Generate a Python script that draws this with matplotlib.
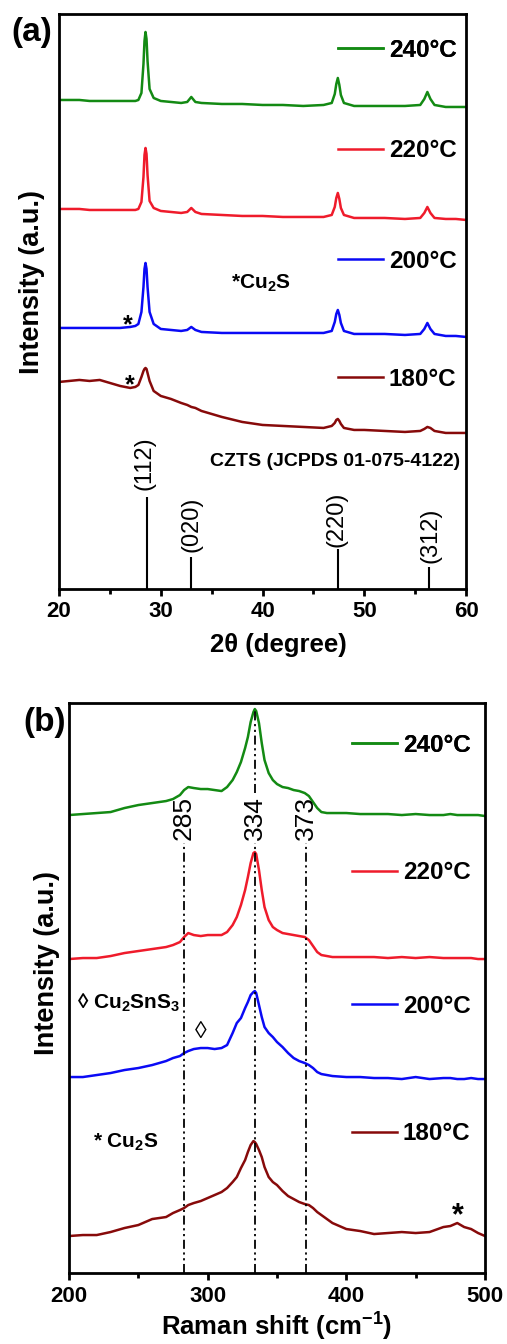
import matplotlib
matplotlib.use('Agg')
from matplotlib import pyplot as plt
from matplotlib.ticker import MultipleLocator

plt.rcParams['font.family'] = ['Liberation Sans', 'DejaVu Sans']
plt.rcParams['font.weight'] = 'bold'
plt.rcParams['axes.labelweight'] = 'bold'
plt.rcParams['mathtext.fontset'] = 'custom'
plt.rcParams['mathtext.rm'] = 'Liberation Sans:bold'
plt.rcParams['mathtext.bf'] = 'Liberation Sans:bold'
plt.rcParams['mathtext.default'] = 'rm'

temps = ['180°C', '200°C', '220°C', '240°C']
colors = ['#870a0a', '#0a0af5', '#ef1b2b', '#138a13']

# (a) XRD, offset intensities (a.u.)
two_theta = [20, 21, 22, 23, 24, 25, 26, 27, 27.5, 27.8,
             28.1, 28.3, 28.4, 28.5, 28.6, 28.7, 28.9, 29.3, 30, 31,
             32, 32.6, 33.0, 33.4, 34, 36, 38, 40, 42, 44,
             46, 46.8, 47.1, 47.25, 47.4, 47.55, 47.7, 48.0, 49, 50,
             52, 54, 55.5, 55.9, 56.2, 56.5, 56.9, 58, 59, 60]
xrd_180 = [207, 208, 209, 208, 209, 206, 203, 201, 202, 204,
           212, 218, 220, 221, 220, 216, 208, 198, 193, 190,
           186, 184, 182, 181, 178, 172, 167, 164, 163, 162,
           161, 163, 166, 169, 170, 168, 165, 161, 159, 159,
           158, 157, 158, 160, 162, 161, 158, 156, 156, 156]
xrd_200 = [261, 261, 261, 261, 261, 261, 261, 262, 263, 265,
           277, 302, 320, 326, 320, 302, 277, 265, 260, 259,
           258, 259, 262, 259, 257, 256, 256, 256, 256, 256,
           256, 258, 267, 275, 279, 274, 266, 258, 255, 255,
           255, 254, 255, 260, 266, 260, 255, 253, 253, 252]
xrd_220 = [380, 380, 380, 379, 379, 379, 379, 379, 379, 380,
           387, 412, 434, 441, 435, 414, 388, 381, 378, 377,
           376, 377, 381, 377, 375, 374, 373, 373, 372, 372,
           372, 374, 382, 391, 396, 390, 381, 374, 371, 371,
           371, 370, 371, 376, 382, 376, 371, 370, 370, 369]
xrd_240 = [489, 489, 489, 488, 488, 488, 488, 488, 488, 489,
           496, 525, 548, 557, 550, 528, 500, 491, 488, 487,
           486, 487, 492, 487, 486, 485, 485, 484, 484, 483,
           484, 486, 495, 505, 511, 504, 494, 486, 483, 483,
           483, 483, 484, 490, 497, 490, 484, 482, 482, 482]
xrd = [xrd_180, xrd_200, xrd_220, xrd_240]

# CZTS reference (JCPDS 01-075-4122)
ref_pos = [28.6, 33.0, 47.4, 56.4]
ref_int = [92, 32, 40, 22]
ref_hkl = ['(112)', '(020)', '(220)', '(312)']

# (b) Raman
raman_x = [200, 210, 220, 230, 240, 250, 260, 270, 275, 280,
           283, 286, 290, 295, 300, 305, 310, 314, 318, 321,
           324, 327, 329, 331, 333, 334, 335, 337, 339, 341,
           344, 347, 350, 354, 358, 362, 366, 370, 373, 376,
           379, 382, 386, 390, 400, 410, 420, 430, 440, 450,
           460, 470, 475, 480, 485, 490, 495, 500]
raman_180 = [37, 38, 38, 41, 45, 48, 54, 56, 60, 63,
             65, 68, 70, 72, 75, 78, 81, 85, 91, 96,
             105, 113, 121, 128, 132, 131, 129, 123, 116, 106,
             96, 91, 88, 82, 77, 74, 71, 69, 68, 65,
             61, 58, 54, 50, 44, 42, 39, 40, 41, 40,
             41, 46, 47, 50, 46, 44, 40, 37]
raman_200 = [196, 196, 198, 200, 203, 205, 208, 212, 215, 217,
             220, 222, 224, 225, 225, 224, 225, 228, 240, 250,
             255, 265, 271, 278, 281, 282, 280, 268, 256, 246,
             240, 236, 231, 226, 220, 215, 212, 210, 208, 205,
             201, 199, 198, 197, 196, 196, 195, 195, 194, 196,
             194, 195, 195, 194, 194, 195, 194, 194]
raman_220 = [314, 315, 315, 317, 320, 322, 324, 326, 328, 331,
             336, 340, 338, 337, 338, 338, 338, 341, 348, 356,
             368, 383, 396, 410, 420, 421, 419, 403, 383, 366,
             353, 346, 343, 340, 339, 338, 337, 336, 333, 327,
             321, 318, 317, 316, 316, 316, 316, 315, 316, 315,
             316, 315, 315, 315, 315, 315, 314, 314]
raman_240 = [458, 459, 460, 461, 465, 468, 470, 472, 474, 478,
             483, 486, 485, 484, 484, 483, 482, 486, 493, 501,
             511, 525, 536, 551, 561, 564, 562, 550, 530, 513,
             500, 493, 489, 486, 485, 483, 482, 480, 477, 471,
             465, 461, 460, 460, 460, 459, 459, 459, 458, 459,
             458, 458, 459, 458, 458, 458, 458, 457]
raman = [raman_180, raman_200, raman_220, raman_240]

raman_modes = [283, 334, 371]
raman_mode_labels = ['285', '334', '373']

fig = plt.figure(figsize=(5.07, 13.44), dpi=100)
ax1 = fig.add_axes([0.1164, 0.5618, 0.8028, 0.4278])
ax2 = fig.add_axes([0.1361, 0.0528, 0.8205, 0.4241])

def style(ax):
    for s in ax.spines.values():
        s.set_linewidth(2)
    ax.set_yticks([])
    ax.tick_params(axis='x', which='major', direction='out', length=5, width=2,
                   labelsize=16, pad=4)
    ax.tick_params(axis='x', which='minor', direction='out', length=3.5, width=2)

def add_legends(ax, lines, ys, x0):
    for ln, lab, y in zip(lines, temps, ys):
        lg = ax.legend([ln], [lab], loc='center left', bbox_to_anchor=(x0, y),
                       frameon=False, borderpad=0, borderaxespad=0,
                       handlelength=1.85, handletextpad=0.25,
                       prop={'size': 17.5, 'weight': 'bold'})
        ax.add_artist(lg)

# ---- panel (a) ----
lines = []
for y, c in zip(xrd, colors):
    ln, = ax1.plot(two_theta, y, color=c, lw=1.8)
    lines.append(ln)
ax1.vlines(ref_pos, 0, ref_int, color='k', lw=1.5)
for p, h, lab in zip([28.45, 33.0, 47.3, 56.5], [99, 37, 42, 26], ref_hkl):
    ax1.text(p, h, lab, rotation=90, ha='center', va='bottom', fontsize=17,
             fontweight='normal')
ax1.text(59.4, 127, 'CZTS (JCPDS 01-075-4122)', ha='right', va='center', fontsize=14)
ax1.text(36.9, 306, '*Cu$_2$S', ha='left', va='center', fontsize=15)
ax1.text(26.8, 264, '*', ha='center', va='center', fontsize=18)
ax1.text(27.0, 204, '*', ha='center', va='center', fontsize=18)
ax1.set_xlim(20, 60)
ax1.set_ylim(0, 575)
ax1.xaxis.set_major_locator(MultipleLocator(10))
ax1.xaxis.set_minor_locator(MultipleLocator(5))
style(ax1)
ax1.set_xlabel('2θ (degree)', fontsize=18.5, va='center')
ax1.xaxis.set_label_coords(0.538, -0.097)
ax1.set_ylabel('Intensity (a.u.)', fontsize=19.5)
ax1.yaxis.set_label_coords(-0.035, 0.534)
add_legends(ax1, lines, [0.365, 0.570, 0.762, 0.937], 0.685)

# ---- panel (b) ----
lines = []
for y, c in zip(raman, colors):
    ln, = ax2.plot(raman_x, y, color=c, lw=1.8)
    lines.append(ln)
dash = (0, (5, 2, 1.2, 2, 1.2, 2))
ax2.vlines(raman_modes, 0, 430, color='k', lw=1.3, linestyles=[dash])
ax2.vlines([raman_modes[1]], 480, 562, color='k', lw=1.3, linestyles=[dash])
for p, lab in zip(raman_modes, raman_mode_labels):
    ax2.text(p, 455, lab, rotation=90, ha='center', va='center', fontsize=19,
             fontweight='normal')
ax2.text(294.7, 241, '◊', ha='center', va='center', fontsize=17, fontweight='normal')
ax2.text(205.8, 270, '◊ Cu$_2$SnS$_3$', ha='left', va='center', fontsize=15)
ax2.text(217.4, 131, '* Cu$_2$S', ha='left', va='center', fontsize=15)
ax2.text(480.5, 57, '*', ha='center', va='center', fontsize=22)
ax2.set_xlim(200, 500)
ax2.set_ylim(0, 570)
ax2.xaxis.set_major_locator(MultipleLocator(100))
ax2.xaxis.set_minor_locator(MultipleLocator(50))
style(ax2)
ax2.set_xlabel('Raman shift (cm$^{-1}$)', fontsize=18.5, va='center')
ax2.xaxis.set_label_coords(0.5, -0.094)
ax2.set_ylabel('Intensity (a.u.)', fontsize=19.5)
ax2.yaxis.set_label_coords(-0.022, 0.544)
add_legends(ax2, lines, [0.244, 0.468, 0.702, 0.926], 0.68)

fig.text(32 / 507, 1 - 33 / 1344, '(a)', ha='center', va='center', fontsize=24)
fig.text(45 / 507, 1 - 723 / 1344, '(b)', ha='center', va='center', fontsize=24)

fig.savefig('out.png', dpi=100)
